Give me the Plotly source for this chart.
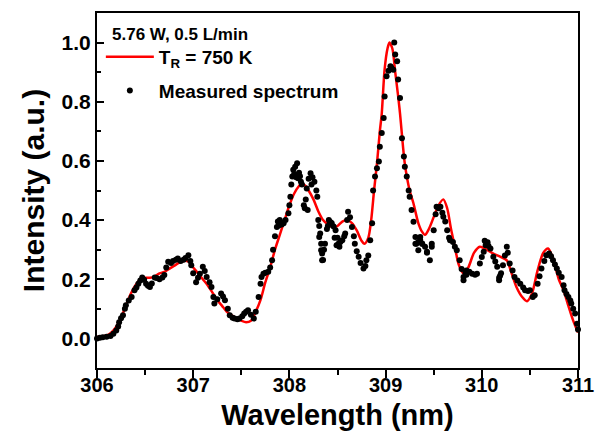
import plotly.graph_objects as go

# Simulated spectrum (T_R = 750 K)
sim_wavelength = [
    306.00, 306.10, 306.15, 306.20, 306.25, 306.30, 306.35, 306.40, 306.45, 306.50,
    306.55, 306.60, 306.65, 306.70, 306.75, 306.80, 306.85, 306.90, 306.95, 307.00,
    307.05, 307.10, 307.15, 307.20, 307.25, 307.30, 307.35, 307.40, 307.45, 307.50,
    307.55, 307.60, 307.65, 307.70, 307.75, 307.80, 307.85, 307.90, 307.95, 308.00,
    308.05, 308.10, 308.13, 308.17, 308.20, 308.25, 308.30, 308.35, 308.40, 308.46,
    308.50, 308.55, 308.60, 308.65, 308.70, 308.75, 308.78, 308.82, 308.85, 308.88,
    308.91, 308.94, 308.96, 308.99, 309.02, 309.04, 309.07, 309.10, 309.13, 309.15,
    309.20, 309.25, 309.29, 309.34, 309.38, 309.41, 309.45, 309.50, 309.55, 309.60,
    309.64, 309.68, 309.72, 309.76, 309.81, 309.86, 309.92, 309.98, 310.05, 310.12,
    310.20, 310.26, 310.31, 310.36, 310.42, 310.47, 310.52, 310.58, 310.64, 310.69,
    310.74, 310.80, 310.85, 310.90, 310.95, 311.00,
]
sim_intensity = [
    0.005, 0.010, 0.020, 0.040, 0.070, 0.110, 0.150, 0.180, 0.200, 0.205,
    0.205, 0.210, 0.220, 0.225, 0.235, 0.245, 0.255, 0.262, 0.260, 0.240,
    0.220, 0.200, 0.180, 0.155, 0.130, 0.110, 0.090, 0.078, 0.068, 0.060,
    0.055, 0.060, 0.090, 0.130, 0.190, 0.240, 0.300, 0.350, 0.400, 0.450,
    0.490, 0.515, 0.524, 0.515, 0.500, 0.470, 0.430, 0.400, 0.385, 0.375,
    0.380, 0.395, 0.400, 0.390, 0.365, 0.330, 0.320, 0.340, 0.400, 0.500,
    0.590, 0.700, 0.760, 0.910, 0.980, 1.000, 0.980, 0.900, 0.820, 0.760,
    0.590, 0.500, 0.456, 0.390, 0.360, 0.350, 0.370, 0.410, 0.450, 0.470,
    0.440, 0.370, 0.310, 0.250, 0.220, 0.240, 0.290, 0.310, 0.300, 0.287,
    0.275, 0.264, 0.220, 0.174, 0.140, 0.126, 0.150, 0.230, 0.290, 0.304,
    0.270, 0.200, 0.163, 0.110, 0.060, 0.020,
]

# Measured spectrum
meas_wavelength = [
    306.00, 306.03, 306.06, 306.10, 306.14, 306.17, 306.20, 306.22, 306.23, 306.25,
    306.27, 306.29, 306.30, 306.33, 306.36, 306.39, 306.41, 306.43, 306.45, 306.47,
    306.49, 306.51, 306.53, 306.55, 306.57, 306.60, 306.62, 306.65, 306.68, 306.70,
    306.72, 306.74, 306.77, 306.79, 306.82, 306.84, 306.87, 306.90, 306.92, 306.95,
    306.97, 306.98, 307.00, 307.03, 307.05, 307.07, 307.10, 307.12, 307.14, 307.17,
    307.19, 307.21, 307.22, 307.25, 307.29, 307.31, 307.33, 307.36, 307.38, 307.41,
    307.43, 307.46, 307.48, 307.51, 307.53, 307.55, 307.57, 307.60, 307.63, 307.65,
    307.68, 307.70, 307.71, 307.73, 307.75, 307.78, 307.80, 307.82, 307.83, 307.85,
    307.87, 307.88, 307.90, 307.92, 307.94, 307.96, 307.99, 308.00, 308.01, 308.02,
    308.03, 308.04, 308.06, 308.08, 308.09, 308.10, 308.12, 308.13, 308.15, 308.16,
    308.17, 308.18, 308.20, 308.22, 308.24, 308.26, 308.28, 308.29, 308.30, 308.31,
    308.32, 308.33, 308.34, 308.35, 308.37, 308.39, 308.41, 308.43, 308.44, 308.46,
    308.48, 308.50, 308.51, 308.53, 308.55, 308.57, 308.58, 308.60, 308.61, 308.63,
    308.65, 308.67, 308.68, 308.70, 308.72, 308.74, 308.77, 308.79, 308.80, 308.82,
    308.84, 308.86, 308.87, 308.89, 308.91, 308.93, 308.94, 308.96, 308.98, 308.99,
    309.01, 309.03, 309.05, 309.06, 309.08, 309.09, 309.10, 309.12, 309.13, 309.15,
    309.17, 309.19, 309.20, 309.22, 309.24, 309.25, 309.27, 309.29, 309.31, 309.32,
    309.34, 309.36, 309.38, 309.41, 309.43, 309.46, 309.48, 309.50, 309.52, 309.53,
    309.55, 309.57, 309.59, 309.60, 309.62, 309.64, 309.66, 309.67, 309.70, 309.72,
    309.74, 309.77, 309.79, 309.81, 309.83, 309.84, 309.87, 309.90, 309.93, 309.95,
    309.98, 310.00, 310.02, 310.04, 310.05, 310.07, 310.09, 310.12, 310.14, 310.16,
    310.18, 310.20, 310.22, 310.24, 310.26, 310.27, 310.29, 310.32, 310.34, 310.37,
    310.40, 310.43, 310.45, 310.48, 310.50, 310.53, 310.55, 310.58, 310.60, 310.62,
    310.65, 310.67, 310.70, 310.72, 310.74, 310.76, 310.78, 310.80, 310.83, 310.85,
    310.86, 310.88, 310.90, 310.92, 310.93, 310.95, 310.97, 310.99, 311.00,
    # scattered secondary readings
    308.05, 308.07, 308.11, 308.19, 308.23, 308.31, 308.33, 308.34, 308.36, 308.40,
    308.42, 308.47, 308.49, 308.52, 309.31, 309.34, 309.36, 309.38, 309.43, 309.48,
    309.81, 309.84, 310.03, 310.06, 310.18, 310.19, 307.89, 307.93,
]
meas_intensity = [
    0.000, 0.002, 0.004, 0.006, 0.008, 0.016, 0.027, 0.040, 0.055, 0.068,
    0.078, 0.100, 0.112, 0.128, 0.140, 0.163, 0.172, 0.185, 0.196, 0.206,
    0.198, 0.185, 0.178, 0.174, 0.186, 0.206, 0.204, 0.200, 0.206, 0.214,
    0.240, 0.259, 0.255, 0.262, 0.266, 0.270, 0.262, 0.266, 0.272, 0.281,
    0.262, 0.247, 0.220, 0.190, 0.205, 0.219, 0.242, 0.228, 0.208, 0.190,
    0.174, 0.140, 0.118, 0.132, 0.152, 0.142, 0.129, 0.100, 0.078, 0.070,
    0.067, 0.065, 0.067, 0.075, 0.084, 0.090, 0.095, 0.080, 0.067, 0.090,
    0.140, 0.185, 0.208, 0.219, 0.222, 0.225, 0.240, 0.264, 0.300, 0.345,
    0.377, 0.395, 0.400, 0.385, 0.389, 0.400, 0.423, 0.450, 0.479, 0.520,
    0.547, 0.570, 0.580, 0.592, 0.541, 0.560, 0.530, 0.520, 0.450, 0.440,
    0.470, 0.507, 0.540, 0.558, 0.545, 0.530, 0.500, 0.479, 0.400, 0.380,
    0.355, 0.320, 0.287, 0.265, 0.320, 0.370, 0.400, 0.392, 0.389, 0.378,
    0.366, 0.340, 0.320, 0.326, 0.332, 0.345, 0.355, 0.400, 0.428, 0.410,
    0.377, 0.345, 0.320, 0.295, 0.276, 0.255, 0.236, 0.245, 0.264, 0.280,
    0.332, 0.389, 0.500, 0.547, 0.575, 0.598, 0.648, 0.694, 0.745, 0.818,
    0.886, 0.905, 0.920, 0.915, 0.908, 1.000, 0.960, 0.937, 0.875, 0.813,
    0.677, 0.615, 0.580, 0.547, 0.500, 0.479, 0.434, 0.394, 0.343, 0.320,
    0.326, 0.332, 0.320, 0.310, 0.290, 0.264, 0.310, 0.366, 0.420, 0.445,
    0.440, 0.445, 0.425, 0.411, 0.395, 0.366, 0.340, 0.332, 0.326, 0.310,
    0.298, 0.264, 0.235, 0.208, 0.222, 0.230, 0.225, 0.219, 0.215, 0.219,
    0.253, 0.275, 0.293, 0.315, 0.320, 0.312, 0.304, 0.276, 0.260, 0.242,
    0.197, 0.220, 0.247, 0.280, 0.310, 0.290, 0.253, 0.230, 0.208, 0.196,
    0.185, 0.172, 0.163, 0.160, 0.163, 0.140, 0.146, 0.185, 0.210, 0.236,
    0.262, 0.281, 0.287, 0.278, 0.264, 0.250, 0.236, 0.222, 0.208, 0.180,
    0.163, 0.150, 0.140, 0.128, 0.118, 0.100, 0.084, 0.050, 0.030,
    # scattered secondary readings
    0.556, 0.545, 0.548, 0.434, 0.520, 0.343, 0.298, 0.264, 0.300, 0.380,
    0.394, 0.340, 0.315, 0.310, 0.320, 0.298, 0.343, 0.320, 0.293, 0.320,
    0.197, 0.215, 0.330, 0.325, 0.205, 0.212, 0.382, 0.392,
]

x_ticks = [306, 307, 308, 309, 310, 311]
y_ticks = [0.0, 0.2, 0.4, 0.6, 0.8, 1.0]
legend_heading = "5.76 W, 0.5 L/min"

FONT = "Arial, 'Liberation Sans', sans-serif"

fig = go.Figure()
fig.add_trace(go.Scatter(
    x=sim_wavelength, y=sim_intensity, mode="lines",
    line=dict(color="#ff0000", width=2.5, shape="spline", smoothing=0.8),
    name="T<sub>R</sub> = 750 K", cliponaxis=False, legendgroup="sim",
))
fig.add_trace(go.Scatter(
    x=meas_wavelength, y=meas_intensity, mode="markers",
    marker=dict(color="black", size=6, line=dict(width=0)),
    name="Measured spectrum", cliponaxis=False, legendgroup="meas",
))

fig.update_layout(
    width=604, height=435,
    margin=dict(l=97, r=26, t=13, b=67, autoexpand=False),
    paper_bgcolor="white", plot_bgcolor="white",
    font=dict(family=FONT, color="black", weight="bold"),
    showlegend=True,
    legend=dict(
        x=0.008, y=0.93, xanchor="left", yanchor="top",
        bgcolor="rgba(0,0,0,0)",
        font=dict(family=FONT, size=19, color="black", weight="bold"),
        itemwidth=48,
        tracegroupgap=6,
    ),
    annotations=[dict(
        text=legend_heading, xref="paper", yref="paper",
        x=0.027, y=0.94, xanchor="left", yanchor="middle", showarrow=False,
        font=dict(family=FONT, size=17, color="black", weight="bold"),
    )],
)

fig.update_xaxes(
    range=[306, 311], tickvals=x_ticks, ticktext=[str(v) for v in x_ticks],
    showgrid=False, zeroline=False, automargin=False,
    showline=True, linecolor="black", linewidth=2, mirror=True,
    ticks="outside", ticklen=8, tickwidth=2, tickcolor="black",
    ticklabelstandoff=-10,
    minor=dict(dtick=0.5, ticks="outside", ticklen=5, tickwidth=2, tickcolor="black", showgrid=False),
    tickfont=dict(family=FONT, size=20, color="black", weight="bold"),
    title=dict(text="Wavelength (nm)", standoff=10,
               font=dict(family=FONT, size=29, color="black", weight="bold")),
)
fig.update_yaxes(
    range=[-0.1, 1.1], tickvals=y_ticks, ticktext=[f"{v:.1f}" for v in y_ticks],
    showgrid=False, zeroline=False, automargin=False,
    showline=True, linecolor="black", linewidth=2, mirror=True,
    ticks="inside", ticklen=7, tickwidth=2, tickcolor="black",
    minor=dict(dtick=0.1, ticks="inside", ticklen=4, tickwidth=2, tickcolor="black", showgrid=False),
    tickfont=dict(family=FONT, size=21, color="black", weight="bold"),
    title=dict(text="Intensity (a.u.)", standoff=8,
               font=dict(family=FONT, size=30, color="black", weight="bold")),
)

fig.write_html("out.html")
